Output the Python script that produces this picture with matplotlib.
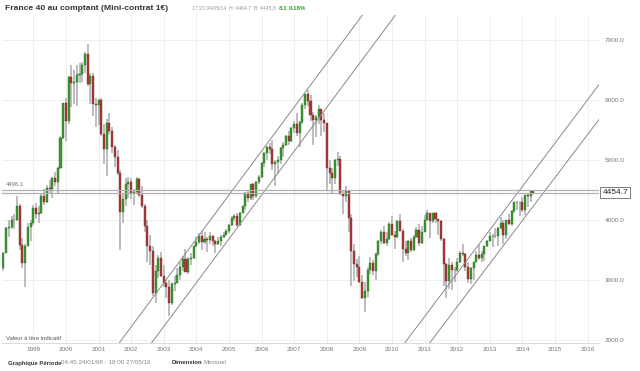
import matplotlib
matplotlib.use("Agg")
import matplotlib.pyplot as plt
import matplotlib.transforms as mtransforms
import numpy as np

plt.rcParams['font.family'] = ['Liberation Sans', 'DejaVu Sans']

# monthly candles, Feb 1998 .. May 2014 (month index 1 = Feb 1998)
first_open = 3199
closes = [
    3447, 3868, 3873, 4005, 3991, 4226, 3588, 3287, 3563, 3884, 3943,
    4204, 4092, 4110, 4400, 4306, 4536, 4512, 4697, 4633, 4869, 5374, 5958,
    5659, 6388, 6286, 6302, 6419, 6446, 6587, 6780, 6266, 6398, 5929, 5926,
    5999, 5437, 5180, 5624, 5486, 5225, 5046, 4786, 4126, 4353, 4599, 4625,
    4443, 4464, 4688, 4414, 4232, 3898, 3559, 3482, 2777, 3153, 3357, 3064,
    2938, 2879, 2618, 2925, 2946, 3085, 3210, 3343, 3135, 3353, 3366, 3558,
    3638, 3731, 3625, 3674, 3660, 3733, 3640, 3603, 3641, 3707, 3754, 3821,
    3913, 4027, 4068, 3908, 4120, 4229, 4451, 4365, 4600, 4400, 4639, 4715,
    4947, 5121, 5220, 5190, 4930, 4966, 5009, 5202, 5250, 5399, 5317, 5542,
    5609, 5455, 5634, 5925, 6105, 5990, 5751, 5662, 5716, 5848, 5670, 5614,
    4870, 4790, 4707, 4997, 5014, 4434, 4392, 4483, 4032, 3487, 3263, 3218,
    2962, 2693, 2807, 3159, 3278, 3140, 3426, 3653, 3795, 3608, 3680, 3936,
    3739, 3708, 3974, 3817, 3508, 3443, 3643, 3491, 3715, 3833, 3610, 3805,
    4005, 4110, 3989, 4107, 4007, 3982, 3672, 3257, 2982, 3243, 3155, 3160,
    3298, 3447, 3424, 3213, 3018, 3197, 3292, 3414, 3355, 3429, 3557, 3641,
    3732, 3723, 3731, 3857, 3949, 3739, 3993, 3934, 4143, 4299, 4295, 4296,
    4165, 4408, 4392, 4487, 4455,
]
highs = [
    3460, 3880, 4000, 4060, 4100, 4404, 4260, 3700, 3600, 3950, 3990,
    4250, 4290, 4240, 4450, 4520, 4580, 4660, 4710, 4800, 4890, 5400, 5960,
    6030, 6400, 6590, 6500, 6590, 6620, 6640, 6800, 6944, 6460, 6450, 6030,
    6020, 6040, 5600, 5690, 5790, 5560, 5260, 5160, 4830, 4450, 4700, 4720,
    4700, 4520, 4720, 4700, 4560, 4270, 4000, 3750, 3560, 3250, 3420, 3470,
    3250, 3000, 3000, 2960, 3060, 3190, 3290, 3390, 3520, 3380, 3450, 3570,
    3710, 3780, 3810, 3790, 3720, 3790, 3750, 3670, 3710, 3740, 3800, 3840,
    3930, 4070, 4100, 4110, 4130, 4240, 4460, 4480, 4600, 4620, 4650, 4750,
    4960, 5130, 5230, 5290, 5330, 5000, 5060, 5210, 5300, 5420, 5480, 5550,
    5660, 5780, 5650, 5950, 6110, 6168, 6080, 5800, 5760, 5920, 5860, 5780,
    5620, 5000, 4860, 5010, 5140, 5060, 4480, 4560, 4500, 4100, 3600, 3350,
    3390, 3080, 2960, 3210, 3380, 3330, 3450, 3670, 3830, 3900, 3800, 3960,
    4070, 3810, 4000, 4090, 3850, 3650, 3670, 3700, 3740, 3880, 3930, 3900,
    4080, 4169, 4120, 4110, 4130, 4010, 4000, 3690, 3280, 3370, 3290, 3220,
    3360, 3480, 3600, 3440, 3300, 3220, 3300, 3480, 3580, 3480, 3560, 3660,
    3790, 3760, 3860, 3880, 4050, 4000, 4000, 4100, 4170, 4300, 4320, 4300,
    4390, 4410, 4450, 4490, 4500,
]
lows = [
    3150, 3440, 3720, 3850, 3840, 3980, 3500, 3200, 2880, 3560, 3640,
    3920, 4020, 3950, 4100, 4250, 4280, 4440, 4370, 4560, 4440, 4850, 5350,
    5320, 5600, 5890, 5930, 5910, 6290, 6310, 6460, 6230, 5930, 5730, 5550,
    5580, 5410, 4930, 4740, 5430, 5110, 4890, 4750, 3500, 3950, 4230, 4370,
    4350, 4250, 4440, 4390, 4200, 3800, 3290, 3240, 2720, 2610, 3030, 3050,
    2880, 2690, 2401, 2580, 2810, 2940, 3000, 3150, 3130, 3090, 3250, 3350,
    3550, 3600, 3500, 3600, 3460, 3600, 3560, 3450, 3580, 3560, 3690, 3740,
    3780, 3890, 3980, 3880, 3890, 4110, 4170, 4300, 4330, 4330, 4360, 4600,
    4700, 4880, 5000, 5100, 4830, 4570, 4770, 4930, 5050, 5240, 5250, 5300,
    5450, 5400, 5220, 5600, 5860, 5900, 5650, 5260, 5380, 5600, 5410, 5470,
    4500, 4600, 4430, 4600, 4900, 4420, 4100, 4300, 3800, 2900, 2980, 3050,
    2940, 2680, 2465, 2710, 3100, 3080, 2990, 3400, 3590, 3600, 3560, 3660,
    3730, 3520, 3700, 3810, 3300, 3390, 3330, 3460, 3480, 3700, 3560, 3600,
    3790, 3990, 3700, 3950, 3950, 3750, 3640, 2900, 2693, 2850, 2830, 2960,
    3130, 3280, 3400, 3150, 2950, 2920, 3000, 3290, 3330, 3300, 3310, 3540,
    3640, 3550, 3700, 3560, 3850, 3590, 3680, 3910, 3900, 4120, 4170, 4060,
    4130, 4080, 4210, 4300, 4430,
]
opens = [first_open] + closes[:-1]
months = np.arange(1, len(closes) + 1)

years = list(range(1999, 2017))
price_ticks = [2000, 3000, 4000, 5000, 6000, 7000]
ref_level = 4498.1
last_price = 4454.7

# channel lines: two points each (month index, price)
channels = [
    ((88.1, 4667), (115.3, 6333)),
    ((88.1, 3933), (127.4, 6333)),
    ((152.4, 2167), (220.8, 6300)),
    ((161.6, 2167), (220.8, 5717)),
]

W, H = 640, 371
fig = plt.figure(figsize=(W / 100, H / 100), dpi=100)
fig.patch.set_facecolor('white')

def fx(px):
    return px / W

def fy(py):
    return 1 - py / H

ax = fig.add_axes([fx(2), fy(342.5), fx(599) - fx(2), fy(15) - fy(342.5)])
ax.set_xlim(0.48, 220.16)
ax.set_ylim(1950, 7425)

for s in ['top', 'left', 'right']:
    ax.spines[s].set_visible(False)
ax.spines['bottom'].set_color('#dddddd')
ax.spines['bottom'].set_linewidth(0.8)

ax.set_xticks([12 * (y - 1998) for y in years])
ax.set_xticklabels([str(y) for y in years])
ax.set_yticks(price_ticks)
ax.set_yticklabels([f'{v:.1f}' for v in price_ticks])
ax.yaxis.tick_right()
ax.tick_params(axis='both', length=0, labelsize=4.6, labelcolor='#777777')
ax.tick_params(axis='x', pad=3)
ax.tick_params(axis='y', pad=4)
ax.grid(True, color='#eeeeee', linewidth=0.7)
ax.set_axisbelow(True)

# candles
o = np.array(opens)
c = np.array(closes)
up = c >= o
ax.vlines(months, lows, highs, color='#b8b8b8', linewidth=1.3, zorder=2)
body_low = np.minimum(o, c)
body_h = np.maximum(np.abs(c - o), 12)
ax.bar(months[up], body_h[up], bottom=body_low[up], width=0.75,
       color='#3a9a2e', edgecolor='#2a6e22', linewidth=0.3, zorder=3)
ax.bar(months[~up], body_h[~up], bottom=body_low[~up], width=0.75,
       color='#a83a34', edgecolor='#7a2a26', linewidth=0.3, zorder=3)

# trend channels
xs = np.array([-20, 240])
for (x0, y0), (x1, y1) in channels:
    k = (y1 - y0) / (x1 - x0)
    ax.plot(xs, y0 + k * (xs - x0), color='#8a8a8a', linewidth=0.7, zorder=4)

# horizontal levels
ax.axhline(ref_level, color='#b0b0b0', linewidth=0.9, zorder=4)
ax.axhline(last_price, color='#b0b0b0', linewidth=0.9, zorder=4)

blend = mtransforms.blended_transform_factory(ax.transAxes, ax.transData)
ax.text(0.007, ref_level + 45, f'{ref_level:.1f}', transform=blend,
        fontsize=4.2, color='#777777', va='bottom', ha='left')
ax.text(1.006, last_price, f'{last_price:.1f}', transform=blend,
        fontsize=6, color='#222222', va='center', ha='left', clip_on=False,
        bbox=dict(boxstyle='square,pad=0.25', fc='white', ec='#666666', lw=0.6))
ax.text(0.007, 0.005, 'Valeur à titre indicatif', transform=ax.transAxes,
        fontsize=4.2, color='#555555', va='bottom', ha='left', zorder=6,
        bbox=dict(boxstyle='square,pad=0.2', fc='white', ec='none'))

# header
fig.text(fx(5), fy(8), 'France 40 au comptant (Mini-contrat 1€)',
         fontsize=6.1, fontweight='bold', color='#333333', va='center', ha='left')
fig.text(fx(192), fy(8.5), '17:23 04/05/14  H: 4464.7  B: 4445.8',
         fontsize=3.7, color='#999999', va='center', ha='left')
fig.text(fx(279), fy(8.5), '8.1', fontsize=4.4, fontweight='bold',
         color='#22aa22', va='center', ha='left')
fig.text(fx(289), fy(8.5), '0.18%', fontsize=4.4, fontweight='bold',
         color='#22aa22', va='center', ha='left')

# footer
fig.text(fx(8), fy(363), 'Graphique Période', fontsize=4.3, fontweight='bold',
         color='#333333', va='center', ha='left')
fig.text(fx(61), fy(363), '04:45 24/01/98 - 18:00 27/05/16', fontsize=4.5,
         color='#888888', va='center', ha='left')
fig.text(fx(172), fy(363), 'Dimension', fontsize=4.3, fontweight='bold',
         color='#333333', va='center', ha='left')
fig.text(fx(203), fy(363), 'Mensuel', fontsize=4.3, color='#888888',
         va='center', ha='left')

fig.savefig('out.png', dpi=100, facecolor='white')
